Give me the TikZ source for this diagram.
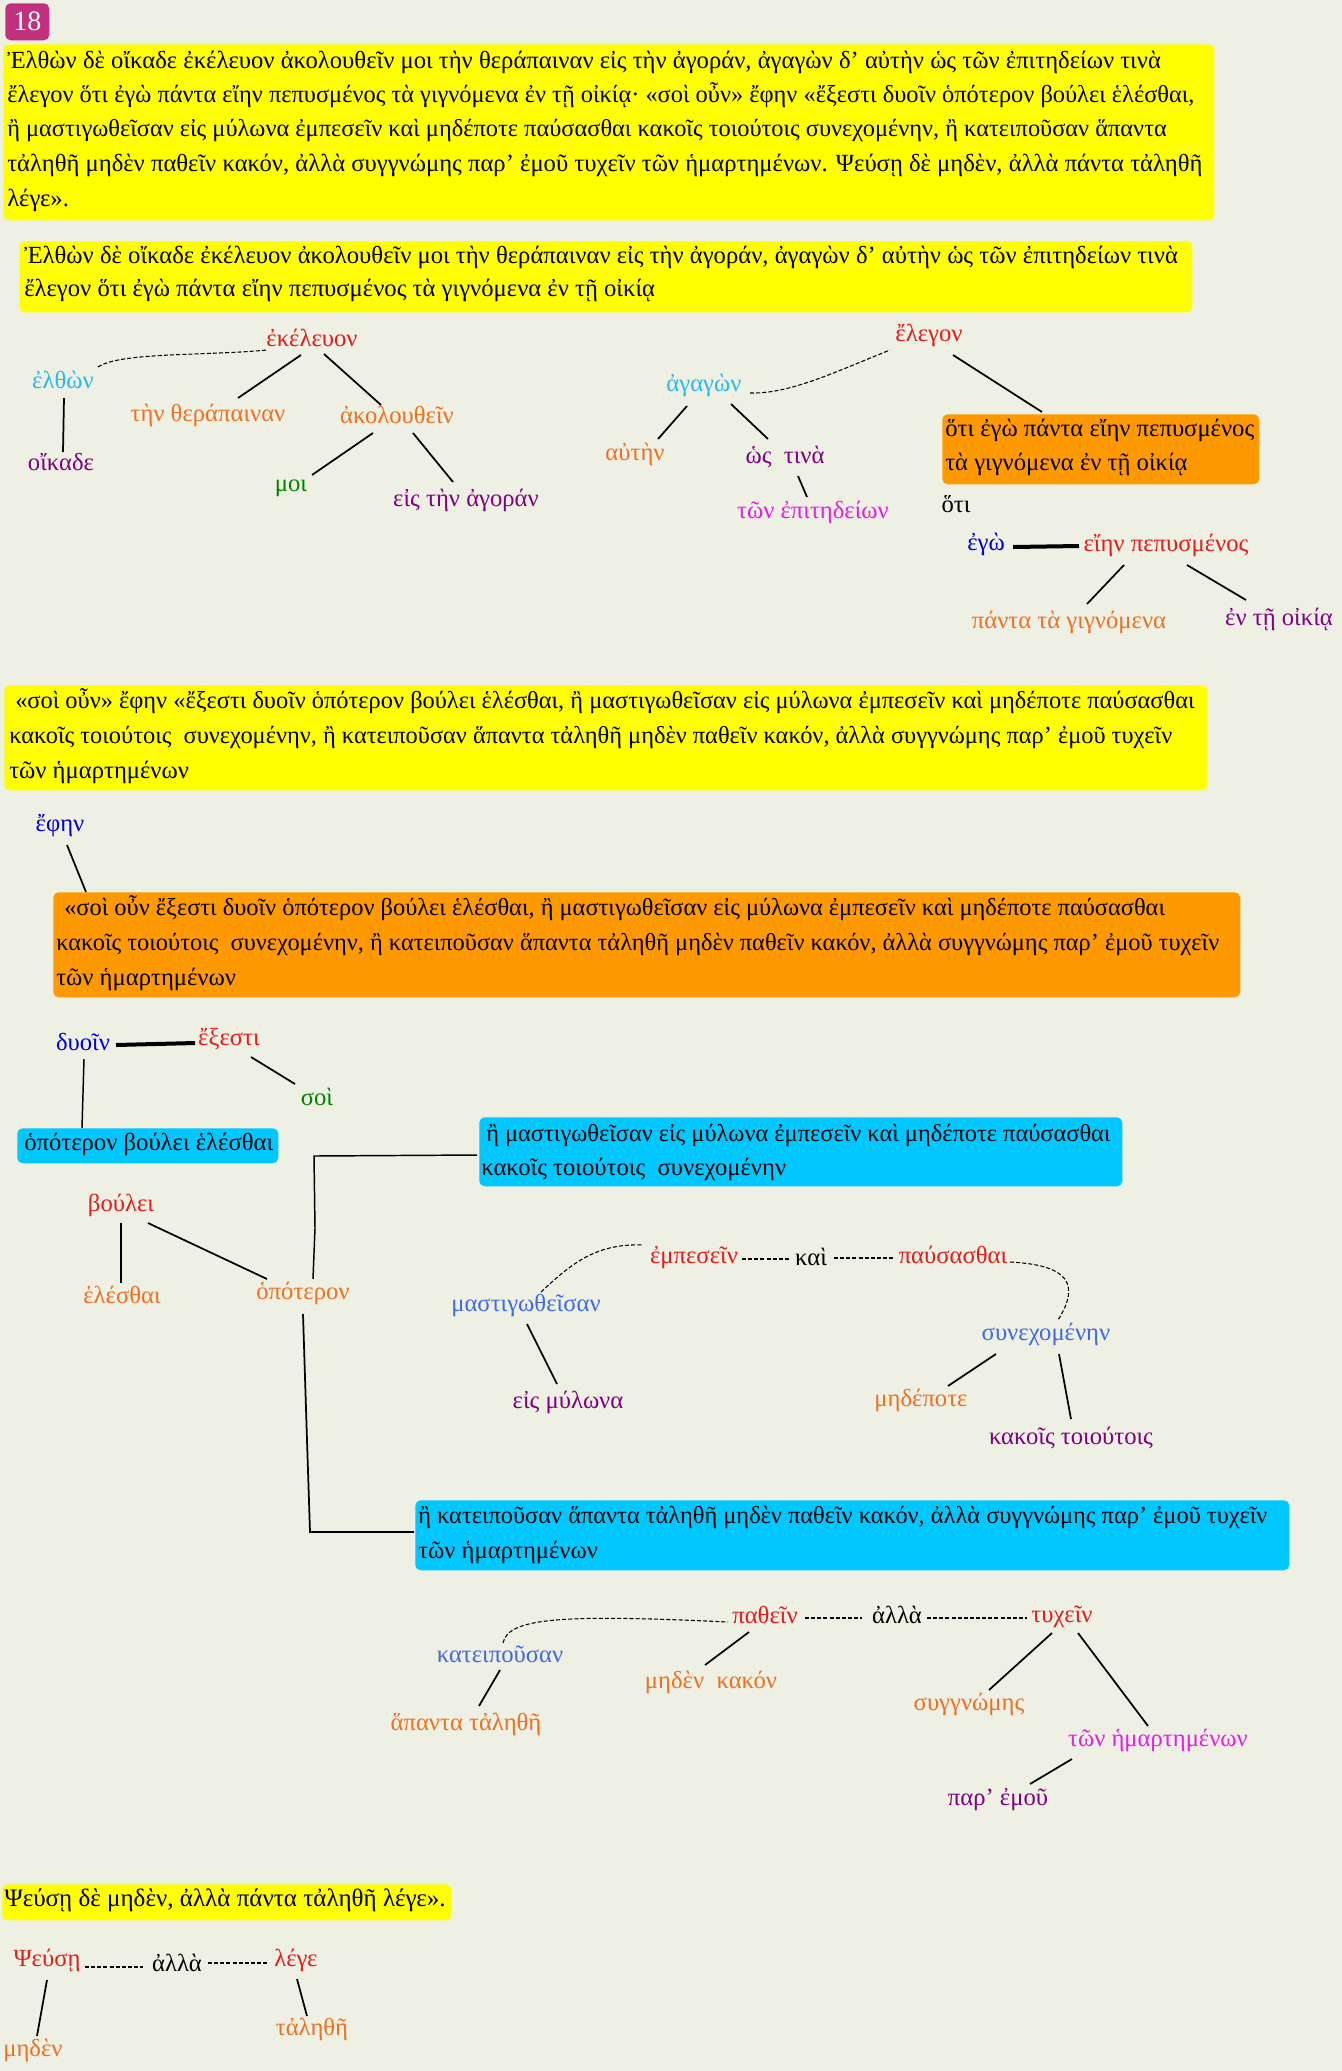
\documentclass[tikz,border=0pt]{standalone}
\usepackage{fontspec}
\setmainfont{Liberation Serif}
\newdimen\pxu \pxu=0.75pt
\newcommand\lblfont{\fontsize{18.5}{22}\selectfont}
\newcommand\narrowfont{\fontsize{18.3}{22}\selectfont}
\definecolor{cred}{RGB}{228,28,28}
\definecolor{ccyan}{RGB}{40,185,235}
\definecolor{cpurp}{RGB}{128,0,128}
\definecolor{corng}{RGB}{238,112,32}
\definecolor{cgreen}{RGB}{0,130,0}
\definecolor{cmag}{RGB}{230,30,230}
\definecolor{cblue}{RGB}{0,0,215}
\definecolor{croyal}{RGB}{65,105,225}
\definecolor{yel}{RGB}{255,255,0}
\definecolor{obox}{RGB}{255,153,0}
\definecolor{cbox}{RGB}{0,200,255}
\definecolor{bg}{RGB}{237,240,227}
\definecolor{badgec}{RGB}{193,48,124}
\tikzset{
  w/.style={anchor=mid, inner sep=0pt, font=\lblfont},
  tl/.style={anchor=mid west, inner sep=0pt, font=\lblfont},
  tn/.style={anchor=mid west, inner sep=0pt, font=\narrowfont},
  boxn/.style={anchor=north west, inner sep=0pt, rounded corners=4pt},
  ln/.style={line width=1.3pt},
  thn/.style={line width=1.1pt},
  thk/.style={line width=3pt},
  dsh/.style={line width=0.8pt, dash pattern=on 3pt off 1.6pt},
}
\begin{document}
\begin{tikzpicture}[x=0.75pt,y=-0.75pt]
\path[use as bounding box, fill=bg] (0,0) rectangle (1342,2071);

% badge
\node[boxn, fill=badgec, minimum width=44*\pxu, minimum height=37*\pxu, text=white, font=\fontsize{21}{24}\selectfont] (badge) at (5,3) {18};

% ---- Yellow box 1
\node[boxn, fill=yel, minimum width=1211*\pxu, minimum height=176*\pxu] (Y1) at (3,44) {};
\node[tl] (y1a) at (7,65) {Ἐλθὼν δὲ οἴκαδε ἐκέλευον ἀκολουθεῖν μοι τὴν θεράπαιναν εἰς τὴν ἀγοράν, ἀγαγὼν δ’ αὐτὴν ὡς τῶν ἐπιτηδείων τινὰ};
\node[tn] (y1b) at (7,99) {ἔλεγον ὅτι ἐγὼ πάντα εἴην πεπυσμένος τὰ γιγνόμενα ἐν τῇ οἰκίᾳ· «σοὶ οὖν» ἔφην «ἔξεστι δυοῖν ὁπότερον βούλει ἑλέσθαι,};
\node[tn] (y1c) at (7,133) {ἢ μαστιγωθεῖσαν εἰς μύλωνα ἐμπεσεῖν καὶ μηδέποτε παύσασθαι κακοῖς τοιούτοις συνεχομένην, ἢ κατειποῦσαν ἅπαντα};
\node[tl] (y1d) at (7,168) {τἀληθῆ μηδὲν παθεῖν κακόν, ἀλλὰ συγγνώμης παρ’ ἐμοῦ τυχεῖν τῶν ἡμαρτημένων. Ψεύσῃ δὲ μηδὲν, ἀλλὰ πάντα τἀληθῆ};
\node[tl] (y1e) at (7,203) {λέγε».};

% ---- Yellow box 2
\node[boxn, fill=yel, minimum width=1173*\pxu, minimum height=71*\pxu] (Y2) at (19,241) {};
\node[tl] (y2a) at (24,260) {Ἐλθὼν δὲ οἴκαδε ἐκέλευον ἀκολουθεῖν μοι τὴν θεράπαιναν εἰς τὴν ἀγοράν, ἀγαγὼν δ’ αὐτὴν ὡς τῶν ἐπιτηδείων τινὰ};
\node[tl] (y2b) at (24,293) {ἔλεγον ὅτι ἐγὼ πάντα εἴην πεπυσμένος τὰ γιγνόμενα ἐν τῇ οἰκίᾳ};

% ---- Tree 1
\node[w, text=cred] (ekel) at (312,343) {ἐκέλευον};
\node[w, text=ccyan] (elth) at (63,385) {ἐλθὼν};
\node[w, text=cpurp] (oikade) at (61,467) {οἴκαδε};
\node[w, text=corng] (therap) at (208,418) {τὴν θεράπαιναν};
\node[w, text=corng] (akol) at (397,420) {ἀκολουθεῖν};
\node[w, text=cgreen] (moi) at (291,488) {μοι};
\node[w, text=cpurp] (agoran) at (466,503) {εἰς τὴν ἀγοράν};
\draw[dsh] ([shift={(35,-18)}]elth.mid) .. controls (120,352) and (205,356) .. ([shift={(-45,7)}]ekel.mid);
\draw[ln] ([shift={(-11,12)}]ekel.mid) -- ([shift={(30,-20)}]therap.mid);
\draw[ln] ([shift={(12,11)}]ekel.mid) -- ([shift={(-16,-15)}]akol.mid);
\draw[ln] ([shift={(1,13)}]elth.mid) -- ([shift={(2,-15)}]oikade.mid);
\draw[ln] ([shift={(-24,13)}]akol.mid) -- ([shift={(21,-13)}]moi.mid);
\draw[ln] ([shift={(16,13)}]akol.mid) -- ([shift={(-13,-21)}]agoran.mid);

% ---- Tree 2
\node[w, text=cred] (elegon) at (929,338) {ἔλεγον};
\node[w, text=ccyan] (agagon) at (704,388) {ἀγαγὼν};
\node[w, text=corng] (auten) at (635,457) {αὐτὴν};
\node[w, text=cpurp] (hos) at (785,460) {ὡς~ τινὰ};
\node[w, text=cmag] (epit) at (813,515) {τῶν ἐπιτηδείων};
\node[boxn, fill=obox, minimum width=317*\pxu, minimum height=70*\pxu] (O1) at (942,414) {};
\node[tl] (o1a) at (945,433) {ὅτι ἐγὼ πάντα εἴην πεπυσμένος};
\node[tl] (o1b) at (945,467) {τὰ γιγνόμενα ἐν τῇ οἰκίᾳ};
\node[w] (hoti) at (956,509) {ὅτι};
\node[w, text=cblue] (ego) at (986,547) {ἐγὼ};
\node[w, text=cred] (eien) at (1166,548) {εἴην πεπυσμένος};
\node[w, text=corng] (panta) at (1069,625) {πάντα τὰ γιγνόμενα};
\node[w, text=cpurp] (entei) at (1279,622) {ἐν τῇ οἰκίᾳ};
\draw[dsh] ([shift={(46,5)}]agagon.mid) .. controls (790,394) and (835,372) .. ([shift={(-39,12)}]elegon.mid);
\draw[ln] ([shift={(24,17)}]elegon.mid) -- ([shift={(100,-2)}]O1.north west);
\draw[ln] ([shift={(-17,18)}]agagon.mid) -- ([shift={(23,-18)}]auten.mid);
\draw[ln] ([shift={(27,16)}]agagon.mid) -- ([shift={(-17,-21)}]hos.mid);
\draw[ln] ([shift={(13,16)}]hos.mid) -- ([shift={(-6,-18)}]epit.mid);
\draw[thk] ([shift={(27,0)}]ego.mid) -- ([shift={(-87,-2)}]eien.mid);
\draw[ln] ([shift={(-42,17)}]eien.mid) -- ([shift={(18,-21)}]panta.mid);
\draw[ln] ([shift={(21,17)}]eien.mid) -- ([shift={(-33,-22)}]entei.mid);

% ---- Yellow box 3
\node[boxn, fill=yel, minimum width=1203*\pxu, minimum height=105*\pxu] (Y3) at (4,685) {};
\node[tn] (y3a) at (15,705) {«σοὶ οὖν» ἔφην «ἔξεστι δυοῖν ὁπότερον βούλει ἑλέσθαι, ἢ μαστιγωθεῖσαν εἰς μύλωνα ἐμπεσεῖν καὶ μηδέποτε παύσασθαι};
\node[tn] (y3b) at (9,740) {κακοῖς τοιούτοις~ συνεχομένην, ἢ κατειποῦσαν ἅπαντα τἀληθῆ μηδὲν παθεῖν κακόν, ἀλλὰ συγγνώμης παρ’ ἐμοῦ τυχεῖν};
\node[tl] (y3c) at (9,775) {τῶν ἡμαρτημένων};

\node[w, text=cblue] (ephen) at (60,828) {ἔφην};
\node[boxn, fill=obox, minimum width=1187*\pxu, minimum height=105*\pxu] (O2) at (53,892) {};
\node[tn] (o2a) at (64,912) {«σοὶ οὖν ἔξεστι δυοῖν ὁπότερον βούλει ἑλέσθαι, ἢ μαστιγωθεῖσαν εἰς μύλωνα ἐμπεσεῖν καὶ μηδέποτε παύσασθαι};
\node[tn] (o2b) at (56,947) {κακοῖς τοιούτοις~ συνεχομένην, ἢ κατειποῦσαν ἅπαντα τἀληθῆ μηδὲν παθεῖν κακόν, ἀλλὰ συγγνώμης παρ’ ἐμοῦ τυχεῖν};
\node[tl] (o2c) at (56,982) {τῶν ἡμαρτημένων};
\draw[ln] ([shift={(7,17)}]ephen.mid) -- ([shift={(33,0)}]O2.north west);

% ---- Section 4
\node[w, text=cblue] (dyoin) at (83,1047) {δυοῖν};
\node[w, text=cred] (exesti) at (229,1042) {ἔξεστι};
\node[w, text=cgreen] (soi) at (317,1102) {σοὶ};
\draw[thk] ([shift={(33,-2)}]dyoin.mid) -- ([shift={(-34,1)}]exesti.mid);
\draw[ln] ([shift={(22,15)}]exesti.mid) -- ([shift={(-22,-18)}]soi.mid);
\node[boxn, fill=cbox, minimum width=261*\pxu, minimum height=35*\pxu] (C1) at (17,1128) {};
\node[tl] (c1a) at (24,1147) {ὁπότερον βούλει ἑλέσθαι};
\draw[thn] ([shift={(1,12)}]dyoin.mid) -- ([shift={(65,0)}]C1.north west);

\node[boxn, fill=cbox, minimum width=643*\pxu, minimum height=69*\pxu] (C2) at (479,1117) {};
\node[tn] (c2a) at (486,1138) {ἢ μαστιγωθεῖσαν εἰς μύλωνα ἐμπεσεῖν καὶ μηδέποτε παύσασθαι};
\node[tl] (c2b) at (481,1172) {κακοῖς τοιούτοις~ συνεχομένην};

\node[w, text=corng] (opot) at (303,1296) {ὁπότερον};
\node[w, text=cred] (boulei) at (121,1208) {βούλει};
\node[w, text=corng] (helest) at (122,1300) {ἑλέσθαι};
\draw[thn] ([shift={(-2,38)}]C2.north west) -- ++(-163,1) -- ++(1,72) -- ([shift={(10,-17)}]opot.mid);
\draw[ln] ([shift={(0,15)}]boulei.mid) -- ([shift={(-1,-17)}]helest.mid);
\draw[ln] ([shift={(27,15)}]boulei.mid) -- ([shift={(-36,-17)}]opot.mid);

\node[boxn, fill=cbox, minimum width=874*\pxu, minimum height=70*\pxu] (C3) at (415,1500) {};
\node[tn] (c3a) at (418,1520) {ἢ κατειποῦσαν ἅπαντα τἀληθῆ μηδὲν παθεῖν κακόν, ἀλλὰ συγγνώμης παρ’ ἐμοῦ τυχεῖν};
\node[tl] (c3b) at (418,1555) {τῶν ἡμαρτημένων};
\draw[ln] ([shift={(0,18)}]opot.mid) -- ++(4,126) -- ++(3,92) -- ([shift={(-1,32)}]C3.north west);

% ---- Section 5
\node[w, text=cred] (empes) at (694,1260) {ἐμπεσεῖν};
\node[w] (kai) at (811,1262) {καὶ};
\node[w, text=cred] (paus) at (953,1260) {παύσασθαι};
\node[w, text=croyal] (mastig) at (526,1308) {μαστιγωθεῖσαν};
\node[w, text=cpurp] (mylona) at (568,1405) {εἰς μύλωνα};
\node[w, text=croyal] (synech) at (1046,1337) {συνεχομένην};
\node[w, text=corng] (medep) at (921,1403) {μηδέποτε};
\node[w, text=cpurp] (kakois) at (1071,1441) {κακοῖς τοιούτοις};
\draw[dsh] ([shift={(48,-1)}]empes.mid) -- ([shift={(-21,-3)}]kai.mid);
\draw[dsh] ([shift={(23,-4)}]kai.mid) -- ([shift={(-58,-2)}]paus.mid);
\draw[dsh] ([shift={(15,-16)}]mastig.mid) .. controls (570,1265) and (595,1243) .. ([shift={(-51,-15)}]empes.mid);
\draw[dsh] ([shift={(57,2)}]paus.mid) .. controls (1070,1265) and (1080,1285) .. ([shift={(12,-17)}]synech.mid);
\draw[ln] ([shift={(1,16)}]mastig.mid) -- ([shift={(-11,-21)}]mylona.mid);
\draw[ln] ([shift={(-50,17)}]synech.mid) -- ([shift={(27,-17)}]medep.mid);
\draw[ln] ([shift={(13,17)}]synech.mid) -- ([shift={(0,-22)}]kakois.mid);

% ---- Section 6
\node[w, text=cred] (pathein) at (765,1620) {παθεῖν};
\node[w] (allaA) at (897,1620) {ἀλλὰ};
\node[w, text=cred] (tychein) at (1062,1619) {τυχεῖν};
\node[w, text=croyal] (kateip) at (500,1659) {κατειποῦσαν};
\node[w, text=corng] (hapanta) at (466,1727) {ἅπαντα τἀληθῆ};
\node[w, text=corng] (medkak) at (711,1685) {μηδὲν~ κακόν};
\node[w, text=corng] (syngn) at (969,1707) {συγγνώμης};
\node[w, text=cmag] (hemart) at (1158,1743) {τῶν ἡμαρτημένων};
\node[w, text=cpurp] (paremou) at (998,1802) {παρ’ ἐμοῦ};
\draw[dsh] ([shift={(40,-2)}]pathein.mid) -- ([shift={(-35,-2)}]allaA.mid);
\draw[dsh] ([shift={(30,-2)}]allaA.mid) -- ([shift={(-35,-1)}]tychein.mid);
\draw[dsh] ([shift={(3,-16)}]kateip.mid) .. controls (508,1618) and (560,1614) .. ([shift={(-37,2)}]pathein.mid);
\draw[ln] ([shift={(0,11)}]kateip.mid) -- ([shift={(13,-21)}]hapanta.mid);
\draw[ln] ([shift={(-16,12)}]pathein.mid) -- ([shift={(-6,-20)}]medkak.mid);
\draw[ln] ([shift={(-10,14)}]tychein.mid) -- ([shift={(20,-17)}]syngn.mid);
\draw[ln] ([shift={(16,14)}]tychein.mid) -- ([shift={(-10,-17)}]hemart.mid);
\draw[ln] ([shift={(-86,16)}]hemart.mid) -- ([shift={(32,-18)}]paremou.mid);

% ---- Section 7
\node[boxn, fill=yel, minimum width=449*\pxu, minimum height=36*\pxu] (Y4) at (2,1884) {};
\node[tl, font=\fontsize{18.8}{22}\selectfont] (y4a) at (4,1903) {Ψεύσῃ δὲ μηδὲν, ἀλλὰ πάντα τἀληθῆ λέγε».};
\node[w, text=cred] (pseuse) at (47,1963) {Ψεύσῃ};
\node[w] (allaB) at (177,1968) {ἀλλὰ};
\node[w, text=cred] (lege) at (296,1963) {λέγε};
\node[w, text=corng] (meden) at (33,2053) {μηδὲν};
\node[w, text=corng] (taleth) at (312,2032) {τἀληθῆ};
\draw[dsh] ([shift={(38,4)}]pseuse.mid) -- ([shift={(-34,-1)}]allaB.mid);
\draw[dsh] ([shift={(31,-5)}]allaB.mid) -- ([shift={(-27,0)}]lege.mid);
\draw[ln] ([shift={(0,17)}]pseuse.mid) -- ([shift={(4,-17)}]meden.mid);
\draw[ln] ([shift={(1,16)}]lege.mid) -- ([shift={(-5,-16)}]taleth.mid);
\end{tikzpicture}
\end{document}
